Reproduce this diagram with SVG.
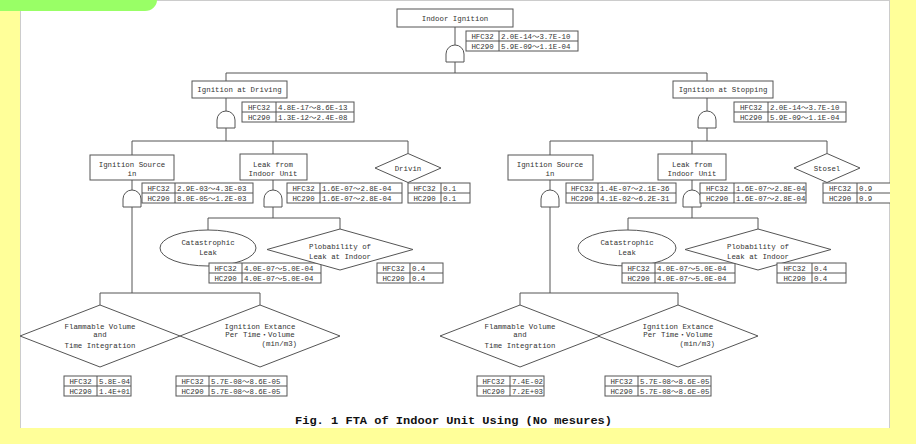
<svg xmlns="http://www.w3.org/2000/svg" xmlns:xlink="http://www.w3.org/1999/xlink" width="916" height="444" viewBox="0 0 916 444">
<defs>
<style>
.ln{stroke:#555;stroke-width:1;fill:none}
.bx{fill:#fff;stroke:#555;stroke-width:1}
.t{font-family:"Liberation Mono","Noto Sans CJK JP",monospace;font-size:7.4px;fill:#333;text-anchor:middle}
.tl{text-anchor:start}
.te{text-anchor:end}
.cap{font-family:"Liberation Mono",monospace;font-size:11.7px;font-weight:bold;fill:#111}
</style>
<path id="g" d="M-9,17V9A9,9 0 0 1 9,9V17Z"/>
</defs>
<rect x="0" y="0" width="916" height="444" fill="#ffff99"/>
<rect x="20" y="0" width="870" height="428" fill="#fff"/>
<path d="M20.5,11V428M889.5,0V428M157,0.5H890" stroke="#ccc" stroke-width="1" fill="none"/>
<path d="M0,0H157A12,11 0 0 1 145,11H0Z" fill="#99ff66"/>

<g id="connectors" class="ln">
<path d="M455,27V45M455,62V73M226,73H707M226,73V81M707,73V81"/>
<path d="M226,98V111M226,128V141M132,141H408M132,141V155M273,141V154M408,141V153.5"/>
<path d="M707,98V111M707,128V141M550,141H827M550,141V155M692,141V154M827,141V153.5"/>
<path d="M132,180V190M132,207V293M100,293H260M100,293V305M260,293V305"/>
<path d="M273,180V190M273,207V218M208,218H340M208,218V230M340,218V229"/>
<path d="M550,180V190M550,207V293M520,293H678M520,293V305M678,293V305"/>
<path d="M692,180V190M692,207V218M628,218H758M628,218V230M758,218V229"/>
</g>

<g id="n-indoor">
<rect class="bx" x="397" y="9" width="116" height="18"/>
<text class="t" x="455" y="20.5">Indoor Ignition</text>
<use xlink:href="#g" href="#g" x="455" y="45" class="bx"/>
<rect class="bx" x="466" y="31" width="112" height="20"/><path class="ln" d="M466,41H578M499,31V51"/>
<text class="t" x="482.5" y="38.7">HFC32</text><text class="t tl" x="501" y="38.7">2.0E-14～3.7E-10</text>
<text class="t" x="482.5" y="48.7">HC290</text><text class="t tl" x="501" y="48.7">5.9E-09～1.1E-04</text>
</g>

<g id="n-driving">
<rect class="bx" x="192" y="81" width="95" height="17"/>
<text class="t" x="239.5" y="92">Ignition at Driving</text>
<use xlink:href="#g" href="#g" x="226" y="111" class="bx"/>
<rect class="bx" x="242" y="102" width="112" height="20"/><path class="ln" d="M242,112H354M276,102V122"/>
<text class="t" x="259" y="109.7">HFC32</text><text class="t tl" x="278" y="109.7">4.8E-17～8.6E-13</text>
<text class="t" x="259" y="119.7">HC290</text><text class="t tl" x="278" y="119.7">1.3E-12～2.4E-08</text>
</g>

<g id="n-stopping">
<rect class="bx" x="673" y="81" width="100" height="17"/>
<text class="t" x="723" y="92">Ignition at Stopping</text>
<use xlink:href="#g" href="#g" x="707" y="111" class="bx"/>
<rect class="bx" x="734" y="102" width="112" height="20"/><path class="ln" d="M734,112H846M768,102V122"/>
<text class="t" x="751" y="109.7">HFC32</text><text class="t tl" x="770" y="109.7">2.0E-14～3.7E-10</text>
<text class="t" x="751" y="119.7">HC290</text><text class="t tl" x="770" y="119.7">5.9E-09～1.1E-04</text>
</g>

<g id="n-source-left">
<rect class="bx" x="90" y="155" width="84" height="25"/>
<text class="t" x="132" y="166.5">Ignition Source</text>
<text class="t" x="132" y="176">in</text>
<use xlink:href="#g" href="#g" x="132" y="190" class="bx"/>
<rect class="bx" x="142" y="183" width="111" height="20"/><path class="ln" d="M142,193H253M175,183V203"/>
<text class="t" x="158.5" y="190.7">HFC32</text><text class="t tl" x="177" y="190.7">2.9E-03～4.3E-03</text>
<text class="t" x="158.5" y="200.7">HC290</text><text class="t tl" x="177" y="200.7">8.0E-05～1.2E-03</text>
</g>

<g id="n-leak-left">
<rect class="bx" x="240" y="154" width="67" height="26"/>
<text class="t" x="273" y="166.5">Leak from</text>
<text class="t" x="273" y="176">Indoor Unit</text>
<use xlink:href="#g" href="#g" x="273" y="190" class="bx"/>
<rect class="bx" x="287" y="183" width="115" height="20"/><path class="ln" d="M287,193H402M320,183V203"/>
<text class="t" x="303.5" y="190.7">HFC32</text><text class="t tl" x="322" y="190.7">1.6E-07～2.8E-04</text>
<text class="t" x="303.5" y="200.7">HC290</text><text class="t tl" x="322" y="200.7">1.6E-07～2.8E-04</text>
</g>

<g id="n-drivin">
<path class="bx" d="M408,153.5L441,168L408,182.5L375,168Z"/>
<text class="t" x="408" y="170.5">Drivin</text>
<rect class="bx" x="408" y="183" width="62" height="20"/><path class="ln" d="M408,193H470M441,183V203"/>
<text class="t" x="424.5" y="190.7">HFC32</text><text class="t tl" x="443" y="190.7">0.1</text>
<text class="t" x="424.5" y="200.7">HC290</text><text class="t tl" x="443" y="200.7">0.1</text>
</g>

<g id="n-cat-left">
<ellipse class="bx" cx="208" cy="248" rx="48" ry="18"/>
<text class="t" x="208" y="245">Catastrophic</text>
<text class="t" x="208" y="255">Leak</text>
<rect class="bx" x="209" y="263" width="112" height="20"/><path class="ln" d="M209,273H321M242,263V283"/>
<text class="t" x="225.5" y="270.7">HFC32</text><text class="t tl" x="244" y="270.7">4.0E-07～5.0E-04</text>
<text class="t" x="225.5" y="280.7">HC290</text><text class="t tl" x="244" y="280.7">4.0E-07～5.0E-04</text>
</g>

<g id="n-prob-left">
<path class="bx" d="M340,229L413,249.5L340,270L267,249.5Z"/>
<text class="t" x="340" y="248.5">Plobability of</text>
<text class="t" x="340" y="258.5">Leak at Indoor</text>
<rect class="bx" x="377" y="263" width="66" height="20"/><path class="ln" d="M377,273H443M410,263V283"/>
<text class="t" x="393.5" y="270.7">HFC32</text><text class="t tl" x="412" y="270.7">0.4</text>
<text class="t" x="393.5" y="280.7">HC290</text><text class="t tl" x="412" y="280.7">0.4</text>
</g>

<g id="n-flam-left">
<path class="bx" d="M100,305L180,336L100,367L20,336Z"/>
<text class="t" x="100" y="328.5">Flammable Volume</text>
<text class="t" x="100" y="337">and</text>
<text class="t" x="100" y="348">Time Integration</text>
<rect class="bx" x="64" y="376" width="67" height="20"/><path class="ln" d="M64,386H131M97,376V396"/>
<text class="t" x="80.5" y="383.7">HFC32</text><text class="t tl" x="99" y="383.7">5.8E-04</text>
<text class="t" x="80.5" y="393.7">HC290</text><text class="t tl" x="99" y="393.7">1.4E+01</text>
</g>

<g id="n-ign-left">
<path class="bx" d="M260,305L340,336L260,367L180,336Z"/>
<text class="t" x="260" y="328.5">Ignition Extance</text>
<text class="t" x="260" y="337">Per Time・Volume</text>
<text class="t te" x="297" y="346">(min/m3)</text>
<rect class="bx" x="176" y="376" width="111" height="20"/><path class="ln" d="M176,386H287M209,376V396"/>
<text class="t" x="192.5" y="383.7">HFC32</text><text class="t tl" x="211" y="383.7">5.7E-08～8.6E-05</text>
<text class="t" x="192.5" y="393.7">HC290</text><text class="t tl" x="211" y="393.7">5.7E-08～8.6E-05</text>
</g>

<g id="n-source-right">
<rect class="bx" x="508" y="155" width="85" height="25"/>
<text class="t" x="550" y="166.5">Ignition Source</text>
<text class="t" x="550" y="176">in</text>
<use xlink:href="#g" href="#g" x="550" y="190" class="bx"/>
<rect class="bx" x="566" y="183" width="110" height="20"/><path class="ln" d="M566,193H676M598,183V203"/>
<text class="t" x="582" y="190.7">HFC32</text><text class="t tl" x="600" y="190.7">1.4E-07～2.1E-36</text>
<text class="t" x="582" y="200.7">HC290</text><text class="t tl" x="600" y="200.7">4.1E-02～6.2E-31</text>
</g>

<g id="n-leak-right">
<rect class="bx" x="658" y="154" width="68" height="26"/>
<text class="t" x="692" y="166.5">Leak from</text>
<text class="t" x="692" y="176">Indoor Unit</text>
<use xlink:href="#g" href="#g" x="692" y="190" class="bx"/>
<rect class="bx" x="700" y="183" width="106" height="20"/><path class="ln" d="M700,193H806M734,183V203"/>
<text class="t" x="717" y="190.7">HFC32</text><text class="t tl" x="736" y="190.7">1.6E-07～2.8E-04</text>
<text class="t" x="717" y="200.7">HC290</text><text class="t tl" x="736" y="200.7">1.6E-07～2.8E-04</text>
</g>

<g id="n-stosel">
<path class="bx" d="M827,153.5L860,168L827,182.5L794,168Z"/>
<text class="t" x="827" y="170.5">Stosel</text>
<rect class="bx" x="823" y="183" width="82" height="20"/><path class="ln" d="M823,193H905M857,183V203"/>
<text class="t" x="840" y="190.7">HFC32</text><text class="t tl" x="859" y="190.7">0.9</text>
<text class="t" x="840" y="200.7">HC290</text><text class="t tl" x="859" y="200.7">0.9</text>
</g>

<g id="n-cat-right">
<ellipse class="bx" cx="627" cy="248" rx="49" ry="18"/>
<text class="t" x="627" y="245">Catastrophic</text>
<text class="t" x="627" y="255">Leak</text>
<rect class="bx" x="622" y="263" width="113" height="20"/><path class="ln" d="M622,273H735M655,263V283"/>
<text class="t" x="638.5" y="270.7">HFC32</text><text class="t tl" x="657" y="270.7">4.0E-07～5.0E-04</text>
<text class="t" x="638.5" y="280.7">HC290</text><text class="t tl" x="657" y="280.7">4.0E-07～5.0E-04</text>
</g>

<g id="n-prob-right">
<path class="bx" d="M758,229L831,249.5L758,270L685,249.5Z"/>
<text class="t" x="758" y="248.5">Plobability of</text>
<text class="t" x="758" y="258.5">Leak at Indoor</text>
<rect class="bx" x="777" y="263" width="69" height="20"/><path class="ln" d="M777,273H846M812,263V283"/>
<text class="t" x="794.5" y="270.7">HFC32</text><text class="t tl" x="814" y="270.7">0.4</text>
<text class="t" x="794.5" y="280.7">HC290</text><text class="t tl" x="814" y="280.7">0.4</text>
</g>

<g id="n-flam-right">
<path class="bx" d="M520,305L600,336L520,367L440,336Z"/>
<text class="t" x="520" y="328.5">Flammable Volume</text>
<text class="t" x="520" y="337">and</text>
<text class="t" x="520" y="348">Time Integration</text>
<rect class="bx" x="477" y="376" width="67" height="20"/><path class="ln" d="M477,386H544M510,376V396"/>
<text class="t" x="493.5" y="383.7">HFC32</text><text class="t tl" x="512" y="383.7">7.4E-02</text>
<text class="t" x="493.5" y="393.7">HC290</text><text class="t tl" x="512" y="393.7">7.2E+03</text>
</g>

<g id="n-ign-right">
<path class="bx" d="M678,305L758,336L678,367L598,336Z"/>
<text class="t" x="678" y="328.5">Ignition Extance</text>
<text class="t" x="678" y="337">Per Time・Volume</text>
<text class="t te" x="715" y="346">(min/m3)</text>
<rect class="bx" x="605" y="376" width="106" height="20"/><path class="ln" d="M605,386H711M638,376V396"/>
<text class="t" x="621.5" y="383.7">HFC32</text><text class="t tl" x="640" y="383.7">5.7E-08～8.6E-05</text>
<text class="t" x="621.5" y="393.7">HC290</text><text class="t tl" x="640" y="393.7">5.7E-08～8.6E-05</text>
</g>

<rect x="890" y="0" width="26" height="444" fill="#ffff99"/>
<text class="cap" x="295" y="424" textLength="317" lengthAdjust="spacingAndGlyphs">Fig. 1 FTA of Indoor Unit Using (No mesures)</text>
</svg>
